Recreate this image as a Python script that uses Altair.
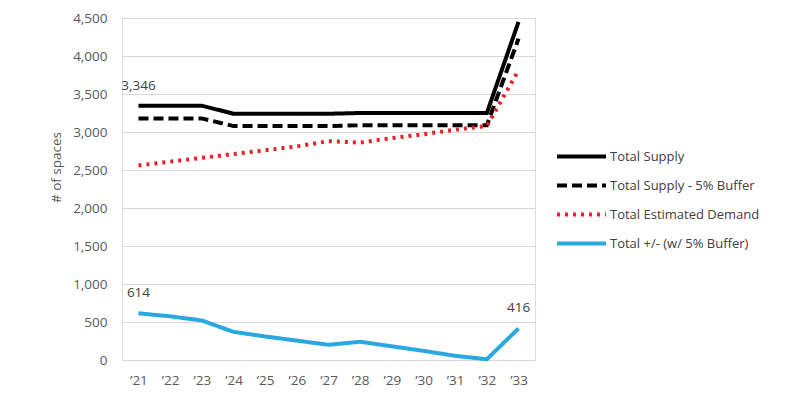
import altair as alt
import pandas as pd

years = ["’21", "’22", "’23", "’24", "’25", "’26", "’27", "’28", "’29", "’30", "’31", "’32", "’33"]
total_supply = [3346, 3346, 3346, 3240, 3240, 3240, 3240, 3250, 3250, 3250, 3250, 3250, 4450]
supply_buffer = [3179, 3179, 3179, 3078, 3078, 3078, 3078, 3088, 3088, 3088, 3088, 3088, 4228]
est_demand = [2560, 2610, 2660, 2710, 2760, 2810, 2880, 2860, 2920, 2970, 3030, 3080, 3812]
net_buffer = [614, 575, 520, 370, 310, 255, 200, 240, 180, 120, 55, 10, 416]

series_names = ["Total Supply", "Total Supply - 5% Buffer", "Total Estimated Demand", "Total +/- (w/ 5% Buffer)"]
series_colors = ["#000000", "#000000", "#e8202a", "#29a8e0"]
series_dash = [[1, 0], [10, 5], [3, 5], [1, 0]]
series_width = [4, 4, 3.5, 4]

rows = []
for name, vals in zip(series_names, [total_supply, supply_buffer, est_demand, net_buffer]):
    for i, (y, v) in enumerate(zip(years, vals)):
        rows.append({"Year": y, "value": v, "series": name, "order": i})
df = pd.DataFrame(rows)

label_df = pd.DataFrame([
    {"Year": years[0], "value": total_supply[0], "label": "3,346"},
    {"Year": years[0], "value": net_buffer[0], "label": "614"},
    {"Year": years[-1], "value": net_buffer[-1], "label": "416"},
])

FONT = "Open Sans"
GRAY = "#595959"

x_scale = alt.Scale(type="point", padding=0.52, domain=years)
x_axis = alt.Axis(title="Year", labelAngle=0, domain=False, ticks=False, grid=False,
                  labelPadding=13, labelFontSize=13.5, labelColor=GRAY,
                  titleFontSize=13.5, titleColor=GRAY, titleFontWeight="normal",
                  titlePadding=12, labelFont=FONT, titleFont=FONT)
y_scale = alt.Scale(domain=[0, 4500], nice=False)
y_axis = alt.Axis(title="# of spaces", values=list(range(0, 4501, 500)), format=",.0f",
                  domain=False, ticks=False, labelPadding=15, labelFontSize=13.5,
                  labelColor=GRAY, grid=True, gridColor="#dcd6d4", gridWidth=1,
                  titleFontSize=13.5, titleColor=GRAY, titleFontWeight="normal",
                  titleX=-59, titleY=149, titleAngle=-90, labelFont=FONT, titleFont=FONT)

lines = alt.Chart(df).mark_line(interpolate="linear").encode(
    x=alt.X("Year:O", scale=x_scale, axis=x_axis),
    y=alt.Y("value:Q", scale=y_scale, axis=y_axis),
    color=alt.Color("series:N", scale=alt.Scale(domain=series_names, range=series_colors),
                    sort=series_names,
                    legend=alt.Legend(title=None, orient="none", legendX=433, legendY=130,
                                      symbolType="stroke", symbolSize=2400, symbolStrokeWidth=4,
                                      labelFontSize=13, labelColor="#404040", labelFont=FONT,
                                      clipHeight=17, rowPadding=12, labelOffset=2)),
    strokeDash=alt.StrokeDash("series:N", scale=alt.Scale(domain=series_names, range=series_dash),
                              sort=series_names, legend=alt.Legend(title=None)),
    strokeWidth=alt.StrokeWidth("series:N", scale=alt.Scale(domain=series_names, range=series_width),
                                sort=series_names, legend=None),
    order="order:Q",
)

labels = alt.Chart(label_df).mark_text(dy=-20, fontSize=13.5, color="#404040", font=FONT).encode(
    x=alt.X("Year:O", scale=x_scale, axis=x_axis),
    y=alt.Y("value:Q", scale=y_scale, axis=y_axis),
    text="label:N",
)

chart = alt.layer(lines, labels).properties(
    width=413, height=342,
    autosize=alt.AutoSizeParams(type="none"),
    padding={"left": 114, "top": 10, "right": 258, "bottom": 40},
).configure_view(strokeWidth=0, stroke="transparent").configure(background="white")

chart.save("out.html", embed_options={"renderer": "svg", "actions": False})
